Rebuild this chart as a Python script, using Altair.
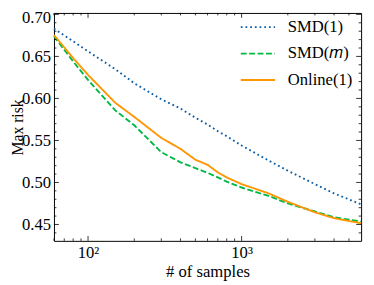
import altair as alt
import pandas as pd

# ---- data ----
samples = [60, 80, 100, 150, 200, 300, 400, 500, 600, 700, 800, 1000, 1500, 2000, 3000, 4000, 6000]
smd_1 = [0.683, 0.668, 0.656, 0.635, 0.618, 0.599, 0.588, 0.577, 0.569, 0.561, 0.555, 0.544, 0.526, 0.514, 0.498, 0.487, 0.474]
smd_m = [0.674, 0.644, 0.622, 0.586, 0.568, 0.536, 0.524, 0.517, 0.5115, 0.506, 0.501, 0.494, 0.484, 0.475, 0.4655, 0.4585, 0.4535]
online_1 = [0.6755, 0.648, 0.628, 0.595, 0.578, 0.553, 0.540, 0.527, 0.521, 0.512, 0.506, 0.498, 0.487, 0.477, 0.4645, 0.4575, 0.4515]

series_names = ["SMD(1)", "SMD(𝑚)", "Online(1)"]
series_colors = ["#0C5DA5", "#00B945", "#FF9500"]
series_dash = [[1.8, 3.0], [6.0, 2.6], [1, 0]]

x_major = [100, 1000]
x_minor = [60, 70, 80, 90, 200, 300, 400, 500, 600, 700, 800, 900, 2000, 3000, 4000, 5000]
y_major = [0.45, 0.50, 0.55, 0.60, 0.65, 0.70]
y_minor = [0.44, 0.46, 0.47, 0.48, 0.49, 0.51, 0.52, 0.53, 0.54, 0.56, 0.57, 0.58, 0.59,
           0.61, 0.62, 0.63, 0.64, 0.66, 0.67, 0.68, 0.69]

X_DOMAIN = [60, 6000]
Y_DOMAIN = [0.4305, 0.7017]
W, H = 314, 233
FONT = "Liberation Serif"
FS = 17

rows = []
for name, vals in zip(series_names, [smd_1, smd_m, online_1]):
    for n, v in zip(samples, vals):
        rows.append({"n": n, "risk": v, "method": name})
df = pd.DataFrame(rows)

xscale = alt.Scale(type="log", domain=X_DOMAIN, nice=False)
yscale = alt.Scale(domain=Y_DOMAIN, nice=False, zero=False)

legend_kw = dict(orient="none", legendX=190, legendY=-4,
                 symbolType="stroke", symbolSize=1225,
                 symbolStrokeWidth=1.9, labelFontSize=FS,
                 labelFont=FONT, rowPadding=-11, padding=0,
                 labelOffset=12, labelColor="black")

lines = alt.Chart(df).mark_line(strokeWidth=1.9).encode(
    x=alt.X("n:Q", scale=xscale, title="# of samples",
            axis=alt.Axis(values=x_major, ticks=False, grid=False, domain=False,
                          labelExpr="datum.value == 100 ? '10²' : '10³'",
                          labelPadding=4, titlePadding=3, labelFlush=False)),
    y=alt.Y("risk:Q", scale=yscale, title="Max risk",
            axis=alt.Axis(values=y_major, ticks=False, grid=False, domain=False,
                          format=".2f", labelPadding=3.5, labelFlush=False,
                          labelOffset={"condition": {"test": "datum.value >= 0.7", "value": 3},
                                       "value": 0},
                          titleX=-32, titleY=H / 2, titleBaseline="alphabetic",
                          titleFontSize=16,
                          titleAngle=270, titleAlign="center")),
    color=alt.Color("method:N", title=None,
                    scale=alt.Scale(domain=series_names, range=series_colors),
                    legend=alt.Legend(**legend_kw)),
    strokeDash=alt.StrokeDash("method:N", title=None,
                              scale=alt.Scale(domain=series_names, range=series_dash),
                              legend=alt.Legend(**legend_kw)),
    order=alt.Order("n:Q"),
)


def xticks(vals, length):
    d = pd.DataFrame({"v": vals})
    bottom = alt.Chart(d).mark_rule(color="black", strokeWidth=0.8).encode(
        x=alt.X("v:Q", scale=xscale), y=alt.value(H), y2=alt.value(H - length))
    top = alt.Chart(d).mark_rule(color="black", strokeWidth=0.8).encode(
        x=alt.X("v:Q", scale=xscale), y=alt.value(0), y2=alt.value(length))
    return [bottom, top]


def yticks(vals, length):
    d = pd.DataFrame({"v": vals})
    left = alt.Chart(d).mark_rule(color="black", strokeWidth=0.8).encode(
        y=alt.Y("v:Q", scale=yscale), x=alt.value(0), x2=alt.value(length))
    right = alt.Chart(d).mark_rule(color="black", strokeWidth=0.8).encode(
        y=alt.Y("v:Q", scale=yscale), x=alt.value(W), x2=alt.value(W - length))
    return [left, right]


layers = [lines] + xticks(x_major, 5) + xticks(x_minor, 2.5) + yticks(y_major, 5) + yticks(y_minor, 2.5)

chart = alt.layer(*layers).properties(
    width=W, height=H,
    autosize=alt.AutoSizeParams(type="none"),
    padding={"left": 47, "top": 2, "right": 5, "bottom": 40},
).configure_view(
    stroke="black", strokeWidth=1
).configure_axis(
    labelFont=FONT, titleFont=FONT, labelFontSize=FS, titleFontSize=FS,
    labelColor="black", titleColor="black", titleFontWeight="normal"
)

chart.save("out.html", embed_options={"renderer": "svg", "actions": False})
